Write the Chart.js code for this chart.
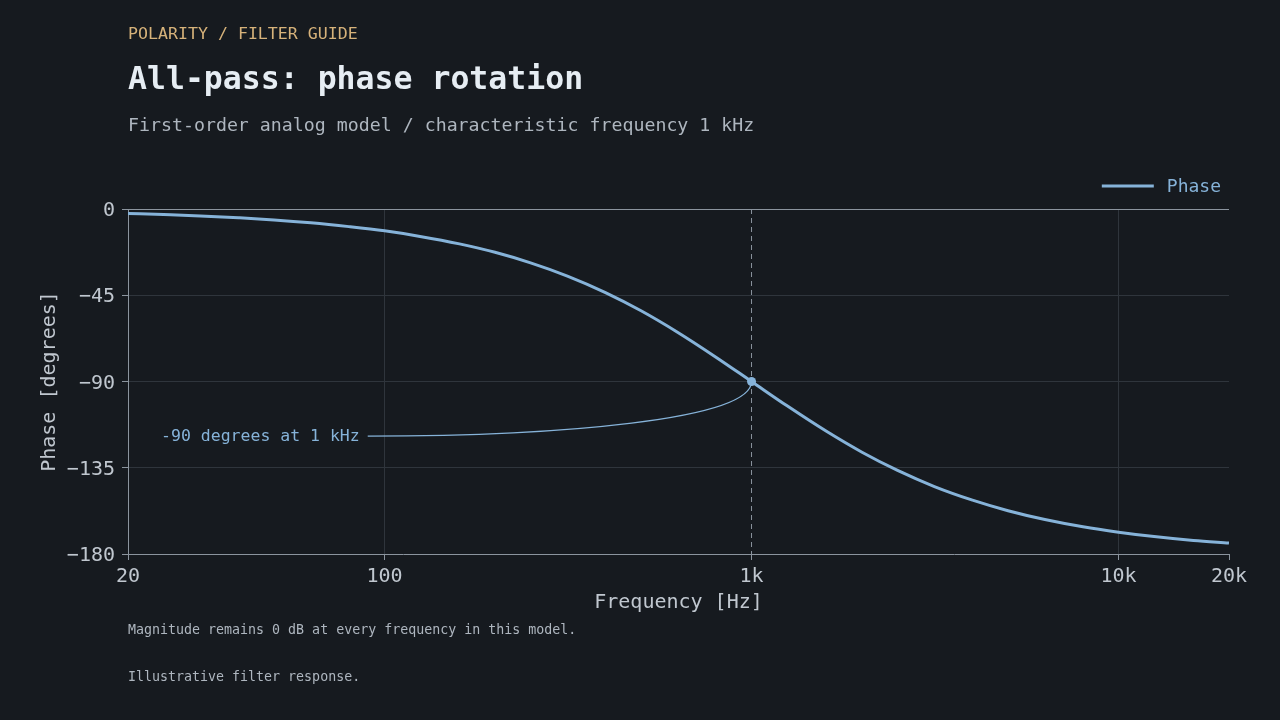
<!DOCTYPE html>
<html>
<head>
<meta charset="utf-8">
<script src="https://cdn.jsdelivr.net/npm/chart.js@4.4.1/dist/chart.umd.min.js"></script>
<style>
  html, body { margin: 0; padding: 0; background: #161a1f; }
  body { width: 1280px; height: 720px; position: relative; overflow: hidden; font-family: "DejaVu Sans Mono", monospace; }
  #wrap { position: absolute; left: 0; top: 0; width: 1280px; height: 720px; }
  .t { position: absolute; left: 128px; line-height: 1; white-space: pre; margin: 0; }
  #kicker { top: 26px; font-size: 16.6px; color: #d6b27a; }
  #title { top: 62.6px; font-size: 31.5px; font-weight: bold; color: #e6edf3; }
  #subtitle { top: 116.3px; font-size: 18.25px; color: #aeb6bf; }
  #note1 { top: 623px; font-size: 13.3px; color: #aeb6bf; }
  #note2 { top: 669.7px; font-size: 13.3px; color: #aeb6bf; }
</style>
</head>
<body>
<div id="wrap"><canvas id="c" width="1280" height="720"></canvas></div>
<div class="t" id="kicker">POLARITY / FILTER GUIDE</div>
<div class="t" id="title">All-pass: phase rotation</div>
<div class="t" id="subtitle">First-order analog model / characteristic frequency 1 kHz</div>
<div class="t" id="note1">Magnitude remains 0 dB at every frequency in this model.</div>
<div class="t" id="note2">Illustrative filter response.</div>
<script>
// ---- data ----
const frequencies = [20, 25, 31.5, 40, 50, 63, 80, 100, 125, 160, 200, 250, 315, 400, 500, 630, 800,
  1000, 1250, 1600, 2000, 2500, 3150, 4000, 5000, 6300, 8000, 10000, 12500, 16000, 20000];
const phaseDeg = [-2.3, -2.9, -3.6, -4.6, -5.7, -7.2, -9.2, -11.4, -14.3, -18.2, -22.6, -28.1, -35.0, -43.6, -53.1, -64.4, -77.3,
  -90.0, -102.7, -116.0, -126.9, -136.4, -144.8, -151.9, -157.4, -162.0, -165.8, -168.6, -170.9, -172.9, -174.3];
const xTickValues = [20, 100, 1000, 10000, 20000];
const xTickLabels = ['20', '100', '1k', '10k', '20k'];
const yTickValues = [0, -45, -90, -135, -180];
const seriesName = 'Phase';
const markerFreq = 1000;
const markerPhase = -90;
const annotationText = '-90 degrees at 1 kHz';
const annotationAnchor = { freq: 90, phase: -118.5 };

// ---- style ----
const FONT = '"DejaVu Sans Mono", monospace';
const LINE = '#86b3d9';
const GRID = '#2f353c';
const AXIS = '#8b949e';
const TICKTXT = '#c0c7cf';

const overlay = {
  id: 'overlay',
  beforeDatasetsDraw(chart) {
    const { ctx, chartArea: a, scales: { x } } = chart;
    const px = x.getPixelForValue(markerFreq);
    ctx.save();
    ctx.strokeStyle = AXIS;
    ctx.lineWidth = 1;
    ctx.setLineDash([5, 4]);
    ctx.beginPath();
    ctx.moveTo(px, a.top);
    ctx.lineTo(px, a.bottom);
    ctx.stroke();
    ctx.restore();
  },
  afterDatasetsDraw(chart) {
    const { ctx, scales: { x, y } } = chart;
    const p3x = x.getPixelForValue(markerFreq), p3y = y.getPixelForValue(markerPhase);
    const p0x = x.getPixelForValue(annotationAnchor.freq), p0y = y.getPixelForValue(annotationAnchor.phase);
    const dx = p3x - p0x, dy = p0y - p3y;
    ctx.save();
    ctx.strokeStyle = LINE;
    ctx.lineWidth = 1.3;
    ctx.beginPath();
    ctx.moveTo(p0x, p0y);
    ctx.bezierCurveTo(p0x + 0.5 * dx, p0y, p3x, p3y + 0.7 * dy, p3x, p3y);
    ctx.stroke();
    ctx.fillStyle = LINE;
    ctx.font = '16.5px ' + FONT;
    ctx.textAlign = 'right';
    ctx.textBaseline = 'middle';
    ctx.fillText(annotationText, p0x - 8, p0y + 1);
    ctx.restore();
  },
  afterDraw(chart) {
    const { ctx, chartArea: a } = chart;
    ctx.save();
    ctx.font = '18px ' + FONT;
    ctx.textAlign = 'right';
    ctx.textBaseline = 'middle';
    ctx.fillStyle = LINE;
    const ly = a.top - 23;
    const tr = a.right - 8;
    ctx.fillText(seriesName, tr, ly + 1);
    const tw = ctx.measureText(seriesName).width;
    const le = tr - tw - 13;
    ctx.strokeStyle = LINE;
    ctx.lineWidth = 3;
    ctx.beginPath();
    ctx.moveTo(le - 52, ly);
    ctx.lineTo(le, ly);
    ctx.stroke();
    ctx.fillStyle = TICKTXT;
    ctx.font = '20px ' + FONT;
    ctx.textAlign = 'center';
    ctx.fillText('Frequency [Hz]', (a.left + a.right) / 2, a.bottom + 49);
    ctx.translate(50, (a.top + a.bottom) / 2);
    ctx.rotate(-Math.PI / 2);
    ctx.fillText('Phase [degrees]', 0, 0);
    ctx.restore();
  }
};

new Chart(document.getElementById('c'), {
  type: 'line',
  data: {
    datasets: [{
      label: seriesName,
      data: frequencies.map((f, i) => ({ x: f, y: phaseDeg[i] })),
      borderColor: LINE,
      backgroundColor: LINE,
      borderWidth: 3,
      cubicInterpolationMode: 'monotone',
      pointRadius: (c) => (frequencies[c.dataIndex] === markerFreq ? 4.5 : 0),
      pointHoverRadius: 0,
      pointBorderWidth: 0,
      pointBackgroundColor: LINE,
      fill: false
    }]
  },
  options: {
    responsive: false,
    animation: false,
    devicePixelRatio: 1,
    layout: { padding: { left: 0, right: 51, top: 209, bottom: 126 } },
    plugins: { legend: { display: false }, tooltip: { enabled: false } },
    scales: {
      x: {
        type: 'logarithmic',
        min: 20, max: 20000,
        afterBuildTicks: (s) => { s.ticks = xTickValues.map(v => ({ value: v })); },
        afterFit: (s) => { s.height = 40; },
        ticks: {
          autoSkip: false, maxRotation: 0, padding: 5,
          color: TICKTXT, font: { family: FONT, size: 20 },
          callback: (v, i) => xTickLabels[i]
        },
        grid: {
          color: (c) => (c.tick && (c.tick.value === 100 || c.tick.value === 10000) ? GRID : 'rgba(0,0,0,0)'),
          tickColor: AXIS, tickLength: 6, lineWidth: 1
        },
        border: { color: AXIS, width: 1 }
      },
      y: {
        min: -180, max: 0,
        afterBuildTicks: (s) => { s.ticks = yTickValues.map(v => ({ value: v })); },
        afterFit: (s) => { s.width = 128; },
        ticks: {
          padding: 7, labelOffset: 2, color: TICKTXT, font: { family: FONT, size: 20 },
          callback: (v) => (v < 0 ? '\u2212' + Math.abs(v) : String(v))
        },
        grid: {
          color: (c) => (c.tick && c.tick.value === 0 ? AXIS : (c.tick && c.tick.value === -180 ? 'rgba(0,0,0,0)' : GRID)),
          tickColor: AXIS, tickLength: 6, lineWidth: 1
        },
        border: { color: AXIS, width: 1 }
      }
    }
  },
  plugins: [overlay]
});
</script>
</body>
</html>
